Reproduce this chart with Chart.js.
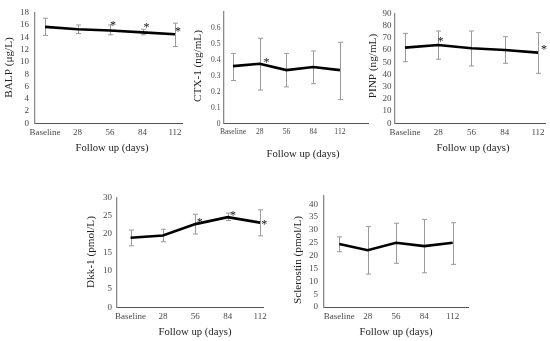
<!DOCTYPE html>
<html><head><meta charset="utf-8">
<script src="https://cdn.jsdelivr.net/npm/chart.js@4"></script>
<style>
html,body{margin:0;padding:0;background:#fff;}
#wrap{position:relative;width:550px;height:341px;overflow:hidden;background:#fff;}
#wrap canvas{position:absolute;left:0;top:0;pointer-events:none;}
</style>
</head><body><div id="wrap"></div>
<script>
// ---------- data ----------
const categories = ['Baseline', '28', '56', '84', '112'];
const xTitle = 'Follow up (days)';

const balpMean  = [15.7, 15.3, 15.1, 14.8, 14.5];
const balpUpper = [17.1, 16.0, 16.0, 15.3, 16.3];
const balpLower = [14.3, 14.6, 14.4, 14.4, 12.5];
const balpTicks = [0, 2, 4, 6, 8, 10, 12, 14, 16, 18];
const balpSig   = [[2.09, 16.26], [3.12, 16.0], [4.09, 15.3]];

const ctxMean  = [0.36, 0.375, 0.335, 0.355, 0.335];
const ctxUpper = [0.44, 0.535, 0.44, 0.455, 0.51];
const ctxLower = [0.27, 0.21, 0.23, 0.25, 0.15];
const ctxTicks = [0, 0.1, 0.2, 0.3, 0.4, 0.5, 0.6];
const ctxSig   = [[1.25, 0.395]];

const pinpMean  = [61.9, 64.0, 61.4, 60.0, 57.8];
const pinpUpper = [73.6, 75.5, 75.5, 70.9, 74.2];
const pinpLower = [50.4, 52.4, 46.9, 49.1, 40.9];
const pinpTicks = [0, 10, 20, 30, 40, 50, 60, 70, 80, 90];
const pinpSig   = [[1.07, 68.7], [4.18, 61.9]];

const dkkMean  = [19.0, 19.6, 22.7, 24.6, 23.1];
const dkkUpper = [21.1, 21.3, 25.4, 25.7, 26.6];
const dkkLower = [16.8, 17.9, 20.0, 23.7, 19.5];
const dkkTicks = [0, 5, 10, 15, 20, 25, 30];
const dkkSig   = [[2.14, 23.8], [3.16, 25.7], [4.13, 23.1]];

const sclMean  = [24.5, 22.1, 25.0, 23.7, 25.0];
const sclUpper = [27.3, 31.3, 32.6, 34.1, 32.8];
const sclLower = [21.5, 12.8, 17.0, 13.3, 16.6];
const sclTicks = [0, 5, 10, 15, 20, 25, 30, 35, 40];
const sclSig   = [];

// ---------- layout ----------
const panels = [
  {yTitle:'BALP (μg/L)', mean:balpMean, upper:balpUpper, lower:balpLower, yTicks:balpTicks, yMax:18, sig:balpSig,
   area:{l:35,r:182,t:12.7,b:123.3}, xRange:[-0.31,4.215], tickFont:9, yPad:6, yTitlePos:[9,67.5], xTitlePos:[112,148]},
  {yTitle:'CTX-1 (ng/mL)', mean:ctxMean, upper:ctxUpper, lower:ctxLower, yTicks:ctxTicks, yMax:0.7, sig:ctxSig, dec:1,
   area:{l:224,r:368,t:12,b:123.5}, xRange:[-0.336,5.05], tickFont:7.6, yPad:3.5, yTitlePos:[198,66], xTitlePos:[303,154]},
  {yTitle:'PINP (ng/mL)', mean:pinpMean, upper:pinpUpper, lower:pinpLower, yTicks:pinpTicks, yMax:90, sig:pinpSig,
   area:{l:395,r:545,t:13.3,b:123.3}, xRange:[-0.3,4.21], tickFont:9, yPad:3.5, yTitlePos:[373,66], xTitlePos:[473,148]},
  {yTitle:'Dkk-1 (pmol/L)', mean:dkkMean, upper:dkkUpper, lower:dkkLower, yTicks:dkkTicks, yMax:30, sig:dkkSig,
   area:{l:117,r:263,t:197.3,b:307.5}, xRange:[-0.42,4.09], tickFont:9, yPad:5, yTitlePos:[91,252], xTitlePos:[195,332]},
  {yTitle:'Sclerostin (pmol/L)', mean:sclMean, upper:sclUpper, lower:sclLower, yTicks:sclTicks, yMax:43.2, sig:sclSig,
   area:{l:324,r:468,t:196,b:307}, xRange:[-0.54,4.54], tickFont:9, yPad:6, yTitlePos:[298,260], xTitlePos:[396,332]}
];

const FONT = '"Liberation Serif", "Times New Roman", serif';
const W = 550, H = 341, YW = 22, XH = 30;

function makeDecor(p) {
  return {
    id: 'decor',
    beforeDatasetsDraw(chart) {
      const c = chart.ctx, xs = chart.scales.x, ys = chart.scales.y;
      c.save();
      c.strokeStyle = '#9a9a9a';
      c.lineWidth = 1;
      p.mean.forEach((_, i) => {
        const x = Math.round(xs.getPixelForValue(i)) + 0.5;
        const yu = ys.getPixelForValue(p.upper[i]);
        const yl = ys.getPixelForValue(p.lower[i]);
        c.beginPath();
        c.moveTo(x, yu); c.lineTo(x, yl);
        c.moveTo(x - 2.5, yu); c.lineTo(x + 2.5, yu);
        c.moveTo(x - 2.5, yl); c.lineTo(x + 2.5, yl);
        c.stroke();
      });
      c.restore();
    },
    afterDatasetsDraw(chart) {
      const c = chart.ctx, xs = chart.scales.x, ys = chart.scales.y;
      c.save();
      c.fillStyle = '#111';
      c.font = '12px ' + FONT;
      c.textAlign = 'center';
      c.textBaseline = 'middle';
      p.sig.forEach(([sx, sy]) => {
        c.fillText('*', xs.getPixelForValue(sx), ys.getPixelForValue(sy) + 2.5);
      });
      c.fillStyle = '#222';
      c.font = '10.7px ' + FONT;
      c.fillText(xTitle, p.xTitlePos[0], p.xTitlePos[1]);
      c.translate(p.yTitlePos[0], p.yTitlePos[1]);
      c.rotate(-Math.PI / 2);
      c.font = '11.2px ' + FONT;
      c.fillText(p.yTitle, 0, 0);
      c.restore();
    }
  };
}

const wrap = document.getElementById('wrap');
panels.forEach(p => {
  const cv = document.createElement('canvas');
  cv.width = W; cv.height = H;
  cv.style.width = W + 'px'; cv.style.height = H + 'px';
  wrap.appendChild(cv);
  new Chart(cv.getContext('2d'), {
    type: 'line',
    data: {
      datasets: [{
        data: p.mean.map((v, i) => ({x: i, y: v})),
        borderColor: '#000',
        borderWidth: 2.6,
        pointRadius: 0,
        tension: 0,
        fill: false
      }]
    },
    options: {
      responsive: false,
      animation: false,
      devicePixelRatio: 1,
      events: [],
      layout: {padding: {left: p.area.l - YW, right: W - p.area.r, top: p.area.t, bottom: H - p.area.b - XH}},
      plugins: {legend: {display: false}, tooltip: {enabled: false}},
      scales: {
        x: {
          type: 'linear', min: p.xRange[0], max: p.xRange[1],
          grid: {display: false, drawTicks: false},
          border: {display: true, color: '#555', width: 1},
          afterBuildTicks: s => { s.ticks = categories.map((_, i) => ({value: i})); },
          afterFit: s => { s.height = XH; s.paddingLeft = 0; s.paddingRight = 0; },
          ticks: {
            autoSkip: false, maxRotation: 0, minRotation: 0, padding: 4,
            font: {family: FONT, size: p.tickFont}, color: '#4a4a4a',
            callback: v => categories[v]
          }
        },
        y: {
          type: 'linear', min: 0, max: p.yMax,
          grid: {display: false, drawTicks: false},
          border: {display: true, color: '#8a8a8a', width: 1.3},
          afterBuildTicks: s => { s.ticks = p.yTicks.map(v => ({value: v})); },
          afterFit: s => { s.width = YW; s.paddingTop = 0; s.paddingBottom = 0; },
          ticks: {
            autoSkip: false, padding: p.yPad,
            font: {family: FONT, size: p.tickFont}, color: '#4a4a4a',
            callback: v => (p.dec ? (v === 0 ? '0' : v.toFixed(p.dec)) : String(v))
          }
        }
      }
    },
    plugins: [makeDecor(p)]
  });
});
</script>
</body></html>
